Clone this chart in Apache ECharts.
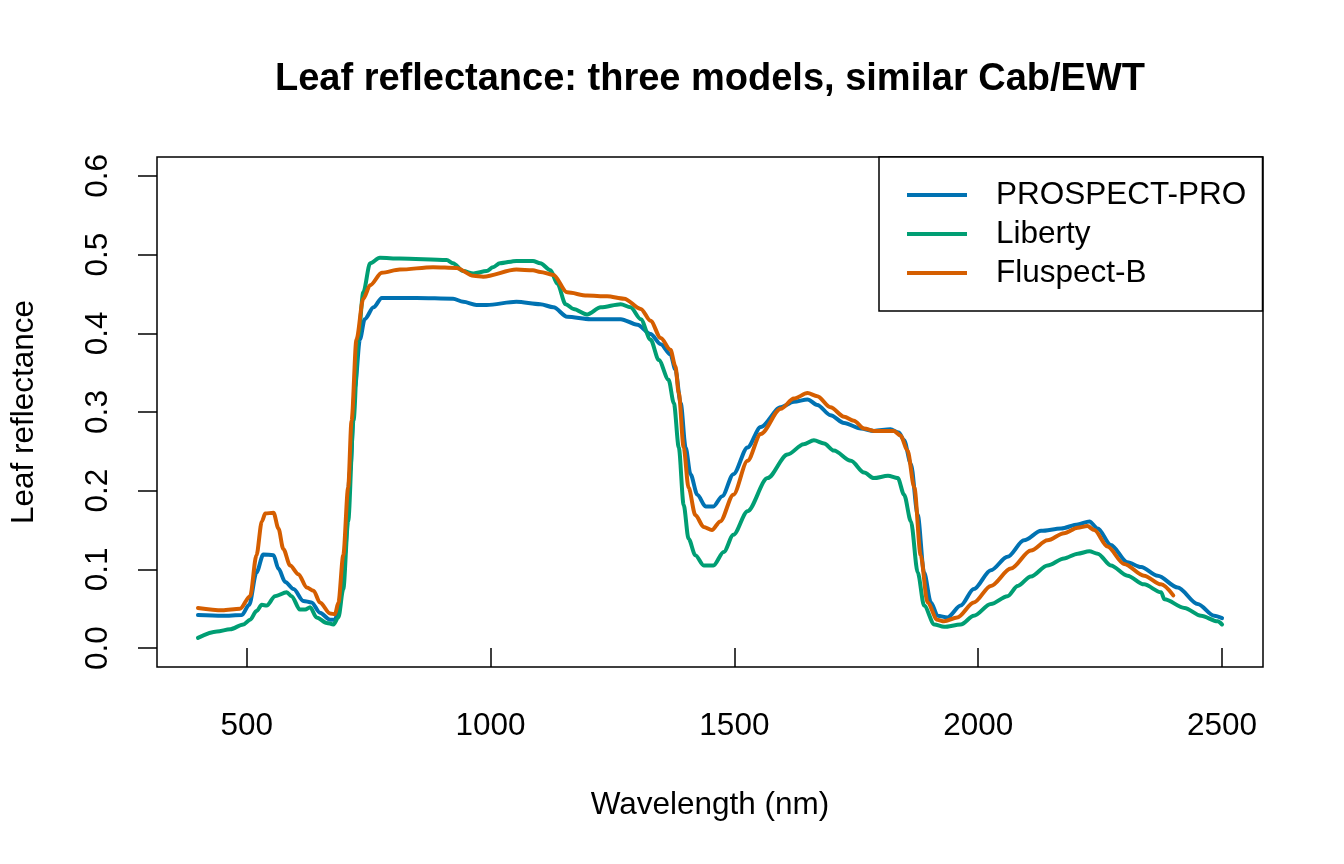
<!DOCTYPE html>
<html>
<head>
<meta charset="utf-8">
<script src="https://cdn.jsdelivr.net/npm/echarts@6/dist/echarts.min.js"></script>
<style>
html,body{margin:0;padding:0;background:#fff;}
#chart{width:1344px;height:864px;}
</style>
</head>
<body>
<div id="chart"></div>
<script>
// ---------- data ----------
const seriesNames = ['PROSPECT-PRO', 'Liberty', 'Fluspect-B'];
const seriesColors = ['#0072B2', '#009E73', '#D55E00'];

const xTicks = [500, 1000, 1500, 2000, 2500];
const yTicks = [0, 0.1, 0.2, 0.3, 0.4, 0.5, 0.6];

const prosWl = [400,450,490,505,520,534,555,565,579,596,616,633,650,671,681,691,701,712,722,732,742,760,777,848,923,944,971,992,1053,1102,1129,1157,1205,1267,1301,1328,1349,1369,1379,1390,1400,1410,1424,1441,1457,1475,1498,1527,1554,1595,1622,1650,1670,1697,1725,1759,1786,1820,1837,1848,1862,1876,1889,1903,1917,1937,1964,1991,2026,2060,2094,2129,2170,2204,2228,2245,2272,2306,2334,2368,2409,2450,2484,2500];
const prosR  = [0.042,0.041,0.042,0.055,0.096,0.119,0.118,0.101,0.084,0.075,0.060,0.058,0.045,0.036,0.036,0.058,0.118,0.225,0.332,0.392,0.418,0.433,0.445,0.445,0.444,0.440,0.436,0.436,0.440,0.437,0.433,0.421,0.418,0.418,0.411,0.399,0.386,0.373,0.354,0.311,0.255,0.221,0.195,0.180,0.180,0.193,0.221,0.255,0.281,0.306,0.313,0.316,0.309,0.296,0.286,0.279,0.276,0.278,0.274,0.264,0.234,0.169,0.096,0.058,0.041,0.039,0.054,0.075,0.099,0.116,0.137,0.149,0.152,0.157,0.161,0.152,0.131,0.109,0.103,0.092,0.077,0.056,0.041,0.038];

const libWl = [400,439,466,493,507,520,531,541,558,582,592,609,620,630,643,664,678,688,698,708,719,729,739,753,773,814,910,923,944,965,992,1005,1019,1053,1087,1102,1123,1137,1154,1170,1198,1226,1267,1287,1308,1328,1345,1365,1376,1386,1396,1406,1420,1437,1457,1478,1498,1527,1568,1609,1642,1663,1684,1704,1739,1766,1786,1815,1835,1848,1862,1876,1889,1910,1930,1964,1991,2026,2060,2081,2108,2142,2176,2204,2228,2245,2272,2306,2340,2375,2382,2423,2457,2491,2500];
const libR  = [0.013,0.021,0.024,0.030,0.036,0.047,0.055,0.054,0.066,0.071,0.066,0.049,0.049,0.052,0.039,0.032,0.030,0.039,0.075,0.161,0.289,0.396,0.452,0.489,0.496,0.495,0.493,0.489,0.479,0.476,0.479,0.484,0.489,0.492,0.492,0.489,0.480,0.463,0.437,0.431,0.424,0.433,0.437,0.433,0.418,0.392,0.366,0.341,0.311,0.255,0.182,0.139,0.118,0.105,0.105,0.122,0.144,0.174,0.216,0.246,0.259,0.264,0.260,0.251,0.238,0.223,0.216,0.219,0.216,0.195,0.161,0.096,0.054,0.030,0.027,0.030,0.041,0.056,0.066,0.079,0.091,0.105,0.114,0.120,0.123,0.120,0.105,0.092,0.081,0.071,0.062,0.051,0.041,0.034,0.030];

const fluWl = [400,450,486,507,520,531,538,555,565,575,589,606,623,637,650,671,681,688,698,708,715,725,739,753,777,814,882,930,965,985,1053,1087,1102,1129,1157,1198,1239,1274,1308,1328,1349,1369,1379,1386,1396,1406,1420,1437,1454,1471,1498,1527,1554,1595,1622,1650,1670,1697,1725,1745,1766,1786,1827,1841,1855,1869,1882,1896,1916,1930,1957,1991,2026,2067,2108,2142,2176,2204,2224,2238,2265,2299,2340,2375,2400];
const fluR  = [0.051,0.048,0.050,0.066,0.118,0.161,0.171,0.172,0.152,0.126,0.105,0.094,0.077,0.073,0.058,0.044,0.043,0.058,0.118,0.204,0.289,0.392,0.444,0.461,0.477,0.481,0.484,0.483,0.473,0.472,0.481,0.480,0.478,0.474,0.452,0.448,0.447,0.444,0.431,0.416,0.394,0.379,0.358,0.324,0.255,0.204,0.169,0.154,0.150,0.161,0.195,0.238,0.272,0.304,0.317,0.324,0.320,0.306,0.294,0.289,0.279,0.276,0.276,0.270,0.251,0.204,0.118,0.058,0.036,0.034,0.039,0.058,0.079,0.101,0.124,0.137,0.146,0.153,0.155,0.150,0.129,0.107,0.092,0.081,0.067];

const titleText = 'Leaf reflectance: three models, similar Cab/EWT';
const xName = 'Wavelength (nm)';
const yName = 'Leaf reflectance';

// ---------- chart ----------
const FONT = '"Liberation Sans", Arial, Helvetica, sans-serif';
const FS = 31.5;
const LW = 4;
const pair = (xs, ys) => xs.map((x, i) => [x, ys[i]]);
const allData = [pair(prosWl, prosR), pair(libWl, libR), pair(fluWl, fluR)];

const chart = echarts.init(document.getElementById('chart'), null, {renderer: 'canvas'});

const option = {
  animation: false,
  backgroundColor: '#ffffff',
  grid: {
    left: 157, right: 81, top: 157, bottom: 197,
    show: true, borderColor: '#000', borderWidth: 1.5, backgroundColor: 'transparent'
  },
  xAxis: {
    type: 'value', min: 316, max: 2584,
    axisLine: {show: false},
    splitLine: {show: false},
    axisTick: {show: true, inside: false, length: 19, customValues: xTicks,
      lineStyle: {color: '#000', width: 1.5}},
    axisLabel: {show: true, customValues: xTicks, margin: 43, color: '#000',
      fontFamily: FONT, fontSize: FS, formatter: v => String(v)}
  },
  yAxis: {
    type: 'value', min: -0.024, max: 0.624,
    axisLine: {show: false},
    splitLine: {show: false},
    axisTick: {show: true, inside: false, length: 19, customValues: yTicks,
      lineStyle: {color: '#000', width: 1.5}},
    axisLabel: {show: true, customValues: yTicks, margin: 43, rotate: 90, color: '#000',
      fontFamily: FONT, fontSize: FS, formatter: v => v.toFixed(1)}
  },
  legend: {
    orient: 'vertical', left: 907, top: 175.5, padding: 0,
    icon: 'rect', itemWidth: 60, itemHeight: LW, itemGap: 0,
    data: seriesNames,
    textStyle: {fontFamily: FONT, fontSize: FS, color: '#000', lineHeight: 39,
      padding: [0, 0, 0, 24]}
  },
  graphic: [
    {type: 'rect', shape: {x: 879, y: 157, width: 383.5, height: 154},
      style: {fill: '#fff', stroke: '#000', lineWidth: 1.5}, z: 1},
    {type: 'text', x: 710, y: 80,
      style: {text: titleText, font: 'bold 38px ' + FONT, fill: '#000', align: 'center', verticalAlign: 'middle'}},
    {type: 'text', x: 710, y: 805,
      style: {text: xName, font: FS + 'px ' + FONT, fill: '#000', align: 'center', verticalAlign: 'middle'}},
    {type: 'text', x: 24, y: 412, rotation: Math.PI / 2,
      style: {text: yName, font: FS + 'px ' + FONT, fill: '#000', align: 'center', verticalAlign: 'middle'}}
  ],
  series: seriesNames.map((name, i) => ({
    name: name,
    type: 'line',
    data: allData[i],
    symbol: 'none',
    showSymbol: false,
    smooth: 0.3,
    smoothMonotone: 'x',
    color: seriesColors[i],
    lineStyle: {color: seriesColors[i], width: LW, cap: 'round', join: 'round'},
    z: 2 + i
  }))
};
chart.setOption(option);
</script>
</body>
</html>
